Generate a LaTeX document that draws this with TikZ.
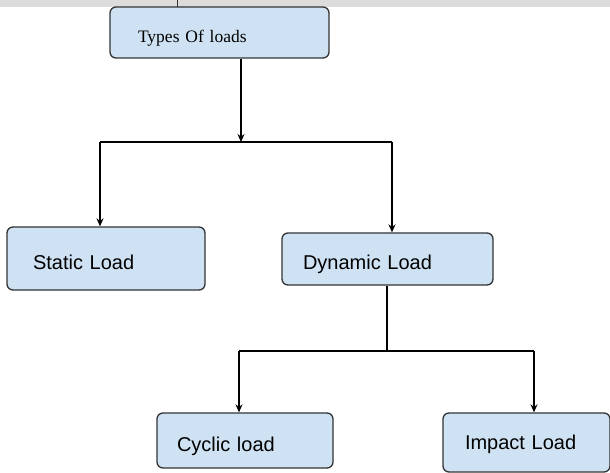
\documentclass[tikz,border=0pt]{standalone}
\usepackage{fontspec}
\setmainfont{Liberation Serif}
\setsansfont{Liberation Sans}
\usetikzlibrary{arrows.meta}
\definecolor{boxfill}{HTML}{CFE2F3}
\definecolor{boxline}{HTML}{333333}
\definecolor{strip}{HTML}{DCDCDC}
\begin{document}
\begin{tikzpicture} [x=1pt, y=-1pt,
        loadbox/.style = {draw=boxline, fill=boxfill, line width=1.3pt, rounded corners=6pt,
                          align=left, inner xsep=22pt, inner ysep=0pt, text height=23pt, text depth=2pt,
                          font=\sffamily\fontsize{20}{23}\selectfont},
        link/.style    = {line width=1.2pt, draw=black},
        arrow/.style   = {link, -{Stealth[length=8pt, width=7pt]}}]
            \useasboundingbox (0, 0) rectangle (610, 473);

            % Leiste oben
            \fill[strip] (0, 0) rectangle (610, 7);
            \draw[line width=1pt, boxline] (177, 0) -- (177, 7);

            % Kaesten
            \node[loadbox, text width=163pt, inner xsep=28pt, minimum height=51pt, font=\rmfamily\fontsize{17.5}{20}\selectfont]
                (types) at (219.5, 32.5) {Types Of loads};
            \node[loadbox, text width=146pt, inner xsep=26pt, minimum height=63pt] (static)  at (106, 258.5) {Static Load};
            \node[loadbox, text width=169pt, inner xsep=21pt, minimum height=52pt, text height=22pt]
                (dynamic) at (387.5, 259) {Dynamic Load};
            \node[loadbox, text width=136pt, inner xsep=20pt, minimum height=55pt] (cyclic) at (245, 440.5) {Cyclic load};
            \node[loadbox, text width=123pt, minimum height=59pt, text height=15pt] (impact) at (526.5, 442.5) {Impact Load};

            % Verzweigung 1
            \coordinate (j1) at (241, 142);
            \coordinate (l1) at (100, 142);
            \coordinate (r1) at (392, 142);
            \draw[arrow] (types.south -| j1) -- (j1);
            \draw[link] (l1) -- (r1);
            \draw[arrow] (l1) -- (static.north -| l1);
            \draw[arrow] (r1) -- (dynamic.north -| r1);

            % Verzweigung 2
            \coordinate (j2) at (387, 351);
            \coordinate (l2) at (239, 351);
            \coordinate (r2) at (534, 351);
            \draw[link] (dynamic.south -| j2) -- (j2);
            \draw[link] (l2) -- (r2);
            \draw[arrow] (l2) -- (cyclic.north -| l2);
            \draw[arrow] (r2) -- (impact.north -| r2);
        \end{tikzpicture}
\end{document}
